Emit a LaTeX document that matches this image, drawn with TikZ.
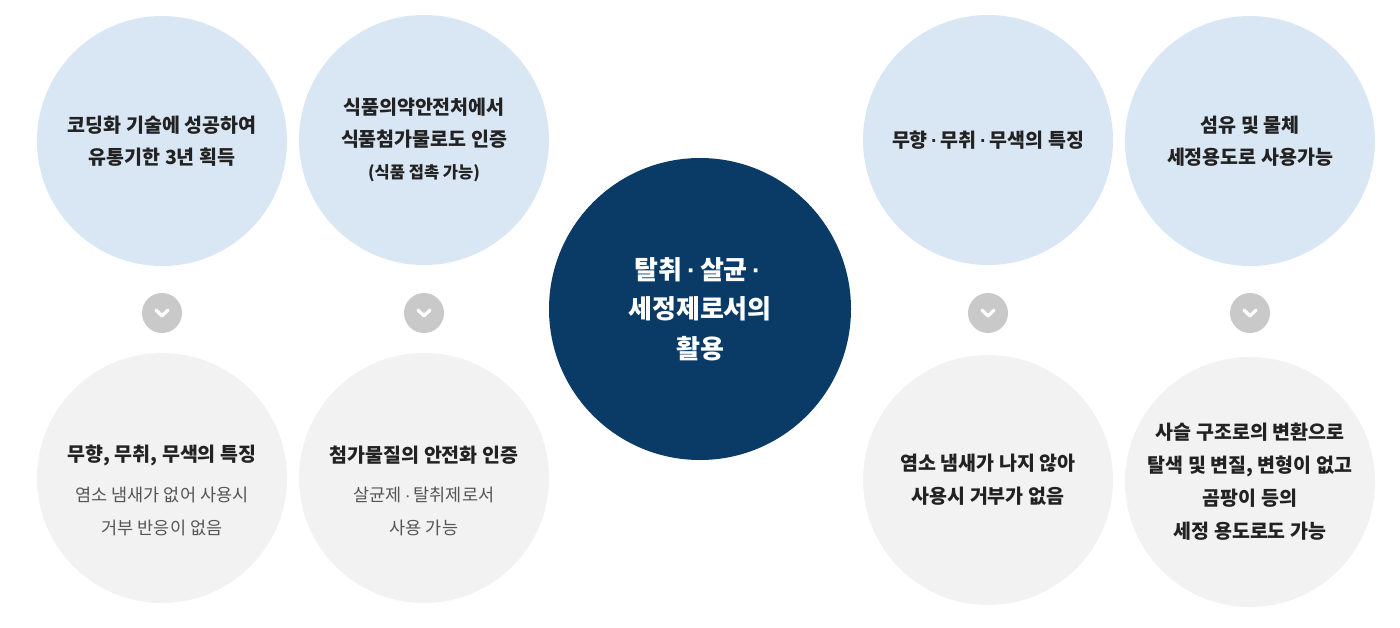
\documentclass[tikz,border=0pt]{standalone}
\usepackage{fontspec}
\setmainfont{Noto Sans CJK KR}
\newfontfamily\dotf{Liberation Sans}
\newcommand{\md}{\,{\dotf ·}\,}
\definecolor{topc}{HTML}{D9E6F3}
\definecolor{botc}{HTML}{F2F2F2}
\definecolor{navy}{HTML}{0A3A66}
\definecolor{chev}{HTML}{C9C9C9}
\definecolor{txt}{HTML}{222222}
\definecolor{sub}{HTML}{555555}
\tikzset{
 topcirc/.style={circle,fill=topc,minimum size=250pt,inner sep=0pt,align=center,text=txt,font=\fontsize{19.5}{32}\selectfont},
 botcirc/.style={circle,fill=botc,minimum size=250pt,inner sep=0pt,align=center,text=txt,font=\fontsize{19.5}{33}\selectfont},
 chevc/.style={circle,fill=chev,minimum size=40pt,inner sep=0pt},
 chevline/.style={white,line width=3.2pt,line cap=round,line join=round},
}
\begin{document}
\begin{tikzpicture}[x=1pt,y=-1pt]
\useasboundingbox (0,0) rectangle (1400,627);
\node[topcirc] (t1) at (162,141) {\textbf{코딩화 기술에 성공하여}\\\textbf{유통기한 3년 획득}};
\node[topcirc] (t2) at (424,140) {\textbf{식품의약안전처에서}\\\textbf{식품첨가물로도 인증}\\{\fontsize{16.5}{28}\selectfont\textbf{(식품 접촉 가능)}}};
\node[topcirc] (t3) at (988,140) {\textbf{무향\md 무취\md 무색의 특징}};
\node[topcirc] (t4) at (1250,141) {\textbf{섬유 및 물체}\\\textbf{세정용도로 사용가능}};
\node[botcirc] (b1) at (162,478) {};
\node[anchor=center,align=center,text=txt,font=\fontsize{19.5}{26}\selectfont\bfseries] (b1t) at (162,455) {무향, 무취, 무색의 특징};
\node[anchor=center,align=center,text=sub,font=\fontsize{17.5}{33}\selectfont] (b1s) at (162,511) {염소 냄새가 없어 사용시\\거부 반응이 없음};
\node[botcirc] (b2) at (424,478) {};
\node[anchor=center,align=center,text=txt,font=\fontsize{19.5}{26}\selectfont\bfseries] (b2t) at (424,455) {첨가물질의 안전화 인증};
\node[anchor=center,align=center,text=sub,font=\fontsize{17.5}{33}\selectfont] (b2s) at (424,511) {살균제\md 탈취제로서\\사용 가능};
\node[botcirc] (b3) at (988,480) {\textbf{염소 냄새가 나지 않아}\\\textbf{사용시 거부가 없음}};
\node[botcirc] (b4) at (1250,482) {\textbf{사슬 구조로의 변환으로}\\\textbf{탈색 및 변질, 변형이 없고}\\\textbf{곰팡이 등의}\\\textbf{세정 용도로도 가능}};
\node[circle,fill=navy,minimum size=302pt,inner sep=0pt,align=center,text=white,font=\fontsize{26}{39.5}\selectfont] (c) at (700,309) {\textbf{탈취\md 살균\md}\\\textbf{세정제로서의}\\\textbf{활용}};
\foreach \n/\x in {1/162,2/424,3/988,4/1250}{
  \node[chevc] (v\n) at (\x,313) {};
  \draw[chevline] ([shift={(-6,-3)}]v\n.center) -- ([shift={(0,3)}]v\n.center) -- ([shift={(6,-3)}]v\n.center);
}
\end{tikzpicture}
\end{document}
